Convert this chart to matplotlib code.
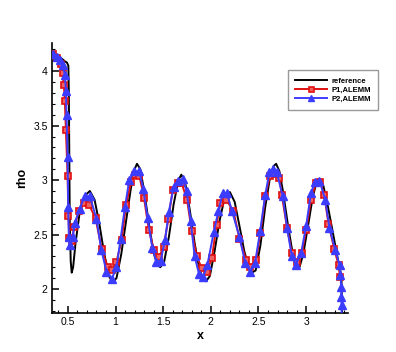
import numpy as np
import matplotlib
matplotlib.use("Agg")
import matplotlib.pyplot as plt
from matplotlib.ticker import MultipleLocator

plt.rcParams['font.family'] = ['Liberation Sans', 'DejaVu Sans']

# reference solution (black line)
ref_x = [0.33, 0.38, 0.43, 0.47, 0.49, 0.505, 0.51, 0.515, 0.52, 0.53, 0.54, 0.555,
         0.58, 0.62, 0.67, 0.73, 0.78, 0.83, 0.88, 0.93, 0.97, 1.01, 1.06, 1.11,
         1.16, 1.20, 1.225, 1.26, 1.30, 1.35, 1.40, 1.44, 1.47, 1.51, 1.56, 1.61,
         1.66, 1.69, 1.73, 1.78, 1.83, 1.88, 1.92, 1.95, 1.99, 2.04, 2.09, 2.14,
         2.20, 2.25, 2.30, 2.35, 2.40, 2.43, 2.47, 2.52, 2.57, 2.62, 2.66, 2.685,
         2.72, 2.76, 2.81, 2.86, 2.90, 2.93, 2.97, 3.02, 3.07, 3.11, 3.145, 3.18,
         3.23, 3.28, 3.32, 3.355, 3.37, 3.375, 3.38]
ref_rho = [4.17, 4.15, 4.12, 4.09, 4.08, 4.05, 3.80, 3.20, 2.60, 2.25, 2.15, 2.20,
           2.42, 2.68, 2.85, 2.90, 2.82, 2.60, 2.33, 2.12, 2.06, 2.10, 2.32, 2.62,
           2.92, 3.10, 3.15, 3.10, 2.90, 2.60, 2.33, 2.22, 2.20, 2.25, 2.48, 2.78,
           3.00, 3.05, 2.98, 2.72, 2.42, 2.18, 2.09, 2.07, 2.12, 2.35, 2.62, 2.82,
           2.89, 2.80, 2.58, 2.35, 2.19, 2.15, 2.17, 2.40, 2.75, 3.02, 3.13, 3.15,
           3.08, 2.88, 2.58, 2.32, 2.20, 2.20, 2.32, 2.58, 2.85, 2.98, 3.01, 2.95,
           2.75, 2.52, 2.33, 2.18, 2.12, 1.90, 1.60]

# P1,ALEMM (red squares)
p1_x = [0.346, 0.388, 0.423, 0.444, 0.458, 0.468, 0.479, 0.497, 0.505, 0.515,
        0.54, 0.568, 0.615, 0.671, 0.724, 0.79, 0.854, 0.918, 0.965, 1.01,
        1.064, 1.11, 1.162, 1.204, 1.25, 1.298, 1.35, 1.403, 1.455, 1.505,
        1.554, 1.60, 1.655, 1.694, 1.75, 1.80, 1.852, 1.905, 1.957, 2.01,
        2.06, 2.10, 2.16, 2.236, 2.30, 2.37, 2.41, 2.475, 2.52, 2.57,
        2.62, 2.675, 2.72, 2.745, 2.80, 2.85, 2.90, 2.955, 3.0, 3.05,
        3.105, 3.147, 3.19, 3.234, 3.294, 3.34, 3.355]
p1_rho = [4.156, 4.126, 4.064, 3.98, 3.87, 3.73, 3.46, 3.04, 2.67, 2.47,
          2.44, 2.57, 2.72, 2.79, 2.77, 2.65, 2.37, 2.20, 2.17, 2.25,
          2.45, 2.77, 2.98, 3.05, 3.04, 2.84, 2.54, 2.36, 2.29, 2.39,
          2.64, 2.91, 2.97, 2.97, 2.82, 2.53, 2.30, 2.19, 2.16, 2.28,
          2.59, 2.79, 2.82, 2.72, 2.46, 2.27, 2.20, 2.27, 2.51, 2.85,
          3.04, 3.055, 3.02, 2.86, 2.56, 2.33, 2.25, 2.33, 2.54, 2.82,
          2.975, 2.985, 2.86, 2.60, 2.37, 2.22, 2.11]

# P2,ALEMM (blue triangles)
p2_x = [0.346, 0.381, 0.416, 0.444, 0.468, 0.479, 0.486, 0.497, 0.503, 0.51,
        0.52, 0.549, 0.574, 0.623, 0.676, 0.731, 0.80, 0.85, 0.905, 0.962,
        1.01, 1.053, 1.099, 1.144, 1.197, 1.249, 1.291, 1.337, 1.385, 1.428,
        1.474, 1.519, 1.56, 1.61, 1.655, 1.705, 1.745, 1.789, 1.83, 1.875,
        1.92, 1.963, 2.03, 2.08, 2.125, 2.17, 2.22, 2.30, 2.36, 2.415,
        2.464, 2.517, 2.57, 2.614, 2.657, 2.692, 2.755, 2.80, 2.85, 2.89,
        2.947, 3.0, 3.05, 3.094, 3.14, 3.20, 3.245, 3.305, 3.35, 3.36,
        3.367, 3.37, 3.372, 3.373]
p2_rho = [4.16, 4.13, 4.10, 4.06, 3.97, 3.82, 3.60, 3.21, 2.755, 2.48,
          2.40, 2.48, 2.61, 2.735, 2.85, 2.85, 2.645, 2.36, 2.16, 2.095,
          2.20, 2.46, 2.755, 3.0, 3.08, 3.08, 2.92, 2.65, 2.38, 2.25,
          2.26, 2.45, 2.71, 2.94, 2.99, 3.01, 2.90, 2.62, 2.30, 2.14,
          2.11, 2.22, 2.52, 2.72, 2.88, 2.88, 2.72, 2.48, 2.24, 2.16,
          2.24, 2.53, 2.86, 3.07, 3.10, 3.07, 2.85, 2.56, 2.30, 2.22,
          2.33, 2.58, 2.88, 2.985, 2.995, 2.82, 2.56, 2.36, 2.22, 2.13,
          2.02, 1.93, 1.85, 1.60]

fig = plt.figure(figsize=(3.96, 3.52), dpi=100)
ax = fig.add_axes([0.131, 0.111, 0.748, 0.767])

red = '#e01010'
blue = '#3c3cff'

ax.plot(ref_x, ref_rho, color='black', lw=1.4, label='reference', zorder=2)
ax.plot(p1_x, p1_rho, color=red, lw=1.4, marker='s', ms=4.5,
        mfc='#f06060', mec=red, mew=1.2, label='P1,ALEMM', zorder=3)
ax.plot(p2_x, p2_rho, color=blue, lw=1.4, marker='^', ms=5.5,
        mfc=blue, mec=blue, label='P2,ALEMM', zorder=4)

ax.set_xlim(0.332, 3.44)
ax.set_ylim(1.78, 4.26)

ax.spines['top'].set_visible(False)
ax.spines['right'].set_visible(False)
ax.spines['left'].set_linewidth(1.2)
ax.spines['bottom'].set_linewidth(1.2)

ax.xaxis.set_major_locator(MultipleLocator(0.5))
ax.xaxis.set_minor_locator(MultipleLocator(0.1))
ax.yaxis.set_major_locator(MultipleLocator(0.5))
ax.yaxis.set_minor_locator(MultipleLocator(0.1))
ax.set_xticks([0.5, 1, 1.5, 2, 2.5, 3])
ax.set_xticklabels(['0.5', '1', '1.5', '2', '2.5', '3'])
ax.set_yticks([2, 2.5, 3, 3.5, 4])
ax.set_yticklabels(['2', '2.5', '3', '3.5', '4'])
ax.tick_params(which='major', direction='in', length=5, width=1.1, labelsize=7.5, pad=3)
ax.tick_params(which='minor', direction='in', length=2.5, width=0.8)

ax.set_xlabel('x', fontsize=9, fontweight='bold', labelpad=2)
ax.set_ylabel('rho', fontsize=9, fontweight='bold', labelpad=4)

leg = ax.legend(loc='upper left', bbox_to_anchor=(0.727, 0.80),
                bbox_transform=fig.transFigure, fontsize=5.5, frameon=True,
                fancybox=False, edgecolor='#808080', handlelength=4.2,
                borderpad=0.9, labelspacing=0.25, handletextpad=0.6,
                borderaxespad=0, markerscale=0.8)
leg.get_frame().set_linewidth(1.0)
for t in leg.get_texts():
    t.set_fontweight('bold')

fig.savefig('out.png', dpi=100)
